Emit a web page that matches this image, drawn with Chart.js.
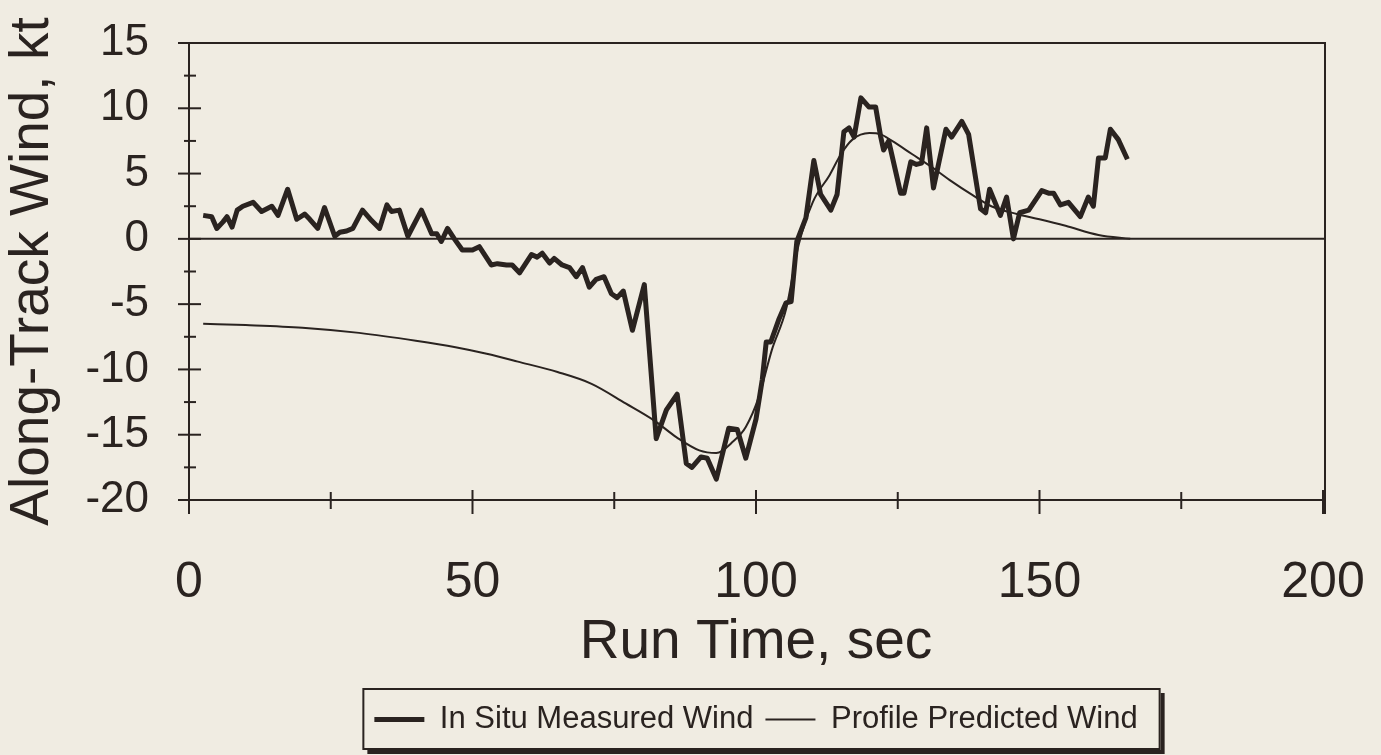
<!DOCTYPE html>
<html>
<head>
<meta charset="utf-8">
<script src="https://cdn.jsdelivr.net/npm/chart.js@4/dist/chart.umd.min.js"></script>
<style>
  html, body { margin: 0; padding: 0; background: #f0ece2; }
  #wrap { width: 1381px; height: 755px; }
</style>
</head>
<body>
<div id="wrap"><canvas id="windChart"></canvas></div>
<script>
// measured wind (thick line)
const measuredTime = [2.5, 4.0, 4.9, 6.0, 6.7, 7.6, 8.5, 9.5, 11.3, 12.8, 14.6, 15.7, 17.4, 19.0, 20.4, 21.3, 22.7, 23.9, 25.7, 26.6,
  27.8, 28.9, 30.6, 32.2, 33.6, 34.9, 35.7, 37.1, 38.6, 41.0, 42.8, 43.7, 44.5, 45.6, 46.8, 48.2, 50.0, 51.2, 53.3, 54.4,
  56.0, 57.0, 58.3, 60.4, 61.4, 62.3, 63.6, 64.4, 65.8, 67.1, 68.3, 69.4, 70.6, 71.8, 73.2, 74.5, 75.5, 76.6, 78.2, 80.3,
  82.4, 84.2, 86.1, 87.7, 88.7, 90.3, 91.4, 93.0, 95.2, 96.7, 98.2, 100.0, 101.1, 101.8, 102.6, 104.0, 105.3, 106.2, 107.2, 108.8,
  110.2, 111.4, 113.2, 114.3, 115.5, 116.4, 117.3, 118.5, 119.9, 121.1, 122.0, 122.5, 123.4, 125.5, 126.1, 127.3, 128.3, 129.2, 130.1, 131.3,
  133.5, 134.5, 136.3, 137.5, 139.6, 140.5, 141.2, 143.1, 144.2, 145.4, 146.5, 148.1, 150.4, 151.6, 152.5, 153.7, 155.1, 157.2, 158.6, 159.5,
  160.4, 161.6, 162.5, 163.9, 165.5];
const measuredWind = [1.8, 1.7, 0.8, 1.3, 1.7, 0.9, 2.2, 2.5, 2.8, 2.1, 2.5, 1.8, 3.8, 1.5, 1.9, 1.5, 0.8, 2.4, 0.2, 0.5,
  0.6, 0.8, 2.2, 1.4, 0.8, 2.6, 2.1, 2.2, 0.2, 2.2, 0.4, 0.4, -0.2, 0.8, 0.0, -0.85, -0.85, -0.6, -2.0, -1.9,
  -2.0, -2.0, -2.6, -1.2, -1.4, -1.1, -1.85, -1.5, -2.0, -2.2, -2.9, -2.2, -3.7, -3.1, -2.9, -4.2, -4.5, -4.0, -7.0, -3.5,
  -15.3, -13.1, -11.9, -17.2, -17.5, -16.7, -16.8, -18.4, -14.5, -14.6, -16.8, -13.8, -10.8, -7.9, -7.9, -6.2, -4.9, -4.8, -0.2, 1.6,
  6.0, 3.4, 2.2, 3.4, 8.2, 8.5, 7.8, 10.8, 10.1, 10.1, 7.8, 6.8, 7.5, 3.5, 3.5, 5.9, 5.7, 5.8, 8.5, 3.9,
  8.4, 7.8, 9.0, 8.0, 2.3, 2.0, 3.8, 1.8, 3.2, 0.0, 2.0, 2.2, 3.7, 3.5, 3.5, 2.6, 2.8, 1.7, 3.2, 2.5,
  6.2, 6.2, 8.4, 7.6, 6.1];

// profile predicted wind (thin smooth line)
const predictedTime = [2.5, 10, 20, 30, 40, 47, 52.5, 58, 65, 71, 77, 82, 86, 90, 93, 96, 98.2, 100.5, 102.8, 105.3,
  107.5, 110, 113, 115, 117, 120, 122, 124, 127.5, 131, 134.5, 138, 141.5, 146, 150, 154.6, 160.4, 166];
const predictedWind = [-6.5, -6.6, -6.8, -7.2, -7.8, -8.3, -8.8, -9.4, -10.2, -11.1, -12.6, -13.9, -15.2, -16.2, -16.4, -15.5, -14.4, -12.1, -8.5, -5.4,
  -0.5, 2.8, 4.9, 6.5, 7.6, 8.1, 8.0, 7.5, 6.5, 5.5, 4.4, 3.4, 2.5, 1.9, 1.5, 1.0, 0.3, 0.0];

// ticks
const xMajor = [0, 50, 100, 150, 200];
const xMinor = [25, 75, 125, 175];
const yMajor = [-20, -15, -10, -5, 0, 5, 10, 15];
const yMinor = [-17.5, -12.5, -7.5, -2.5, 2.5, 7.5, 12.5];

const ink = "#2a2320";
const paper = "#f0ece2";
const fontFamily = "'Liberation Sans', Arial, Helvetica, sans-serif";

// axis frame, crossing ticks, zero line and the legend box
const framePlugin = {
    id: "frame",
    beforeDraw(chart) {
        const ctx = chart.ctx;
        ctx.save();
        ctx.fillStyle = paper;
        ctx.fillRect(0, 0, chart.width, chart.height);
        ctx.restore();
    },
    beforeDatasetsDraw(chart) {
        const { ctx, chartArea: a, scales: { x, y } } = chart;
        const line = (x1, y1, x2, y2) => { ctx.beginPath(); ctx.moveTo(x1, y1); ctx.lineTo(x2, y2); ctx.stroke(); };
        ctx.save();
        ctx.strokeStyle = ink;
        ctx.lineWidth = 2;
        // top and right border
        line(a.left - 8, a.top, a.right + 3, a.top);
        line(a.right + 2, a.top, a.right + 2, a.bottom + 14);
        // zero line
        const y0 = y.getPixelForValue(0);
        line(a.left, y0, a.right + 2, y0);
        // y ticks crossing the axis
        yMajor.forEach(v => { const p = y.getPixelForValue(v); line(a.left - 11, p, a.left + 12, p); });
        yMinor.forEach(v => { const p = y.getPixelForValue(v); line(a.left - 5, p, a.left + 7, p); });
        // x ticks crossing the axis
        xMajor.forEach(v => { const p = x.getPixelForValue(v); line(p, a.bottom - 10, p, a.bottom + 14); });
        xMinor.forEach(v => { const p = x.getPixelForValue(v); line(p, a.bottom - 8, p, a.bottom + 9); });
        ctx.restore();
    },
    afterDraw(chart) {
        const boxes = chart.legend && chart.legend.legendHitBoxes;
        if (!boxes || !boxes.length) return;
        const ctx = chart.ctx;
        const left = Math.min(...boxes.map(b => b.left)) - 11;
        const right = Math.max(...boxes.map(b => b.left + b.width)) + 22;
        const top = Math.min(...boxes.map(b => b.top)) - 15;
        const bottom = Math.max(...boxes.map(b => b.top + b.height)) + 14;
        ctx.save();
        ctx.strokeStyle = ink;
        ctx.lineWidth = 2;
        ctx.strokeRect(left, top, right - left, bottom - top);
        // drop shadow
        ctx.lineWidth = 4;
        ctx.beginPath();
        ctx.moveTo(left + 4, bottom + 3);
        ctx.lineTo(right + 3, bottom + 3);
        ctx.lineTo(right + 3, top + 4);
        ctx.stroke();
        ctx.restore();
    }
};

const ctx = document.getElementById("windChart").getContext("2d");
new Chart(ctx, {
    type: "line",
    data: {
        datasets: [
            {
                label: "In Situ Measured Wind",
                data: measuredTime.map((t, i) => ({ x: t, y: measuredWind[i] })),
                borderColor: ink,
                backgroundColor: ink,
                borderWidth: 5,
                pointRadius: 0,
                tension: 0,
                borderJoinStyle: "round"
            },
            {
                label: "Profile Predicted Wind",
                data: predictedTime.map((t, i) => ({ x: t, y: predictedWind[i] })),
                borderColor: ink,
                backgroundColor: ink,
                borderWidth: 2,
                pointRadius: 0,
                cubicInterpolationMode: "monotone"
            }
        ]
    },
    options: {
        responsive: true,
        maintainAspectRatio: false,
        animation: false,
        layout: { padding: { left: 0, right: 58, top: 43, bottom: 10 } },
        scales: {
            x: {
                type: "linear",
                min: 0,
                max: 200,
                afterFit: s => { s.height = 192; s.paddingLeft = 0; s.paddingRight = 0; },
                afterBuildTicks: s => { s.ticks = xMajor.map(v => ({ value: v })); },
                grid: { display: false, drawTicks: false },
                border: { display: true, color: ink, width: 2 },
                ticks: { color: ink, padding: 53, font: { family: fontFamily, size: 50 } },
                title: { display: true, text: "Run Time, sec", color: ink, padding: { top: 0, bottom: 16 }, font: { family: fontFamily, size: 55 } }
            },
            y: {
                min: -20,
                max: 15,
                afterFit: s => { s.width = 189; s.paddingTop = 0; s.paddingBottom = 0; },
                afterBuildTicks: s => { s.ticks = yMajor.map(v => ({ value: v })); },
                grid: { display: false, drawTicks: false },
                border: { display: true, color: ink, width: 2 },
                ticks: { color: ink, padding: 40, font: { family: fontFamily, size: 44 } },
                title: { display: true, text: "Along-Track Wind, kt", color: ink, padding: { top: 0, bottom: 0 }, font: { family: fontFamily, size: 55 } }
            }
        },
        plugins: {
            legend: {
                display: true,
                position: "bottom",
                fullSize: false,
                labels: {
                    color: ink,
                    usePointStyle: true,
                    pointStyle: "line",
                    pointStyleWidth: 50,
                    padding: 12,
                    font: { family: fontFamily, size: 31 }
                }
            },
            tooltip: { enabled: false }
        }
    },
    plugins: [framePlugin]
});
</script>
</body>
</html>
